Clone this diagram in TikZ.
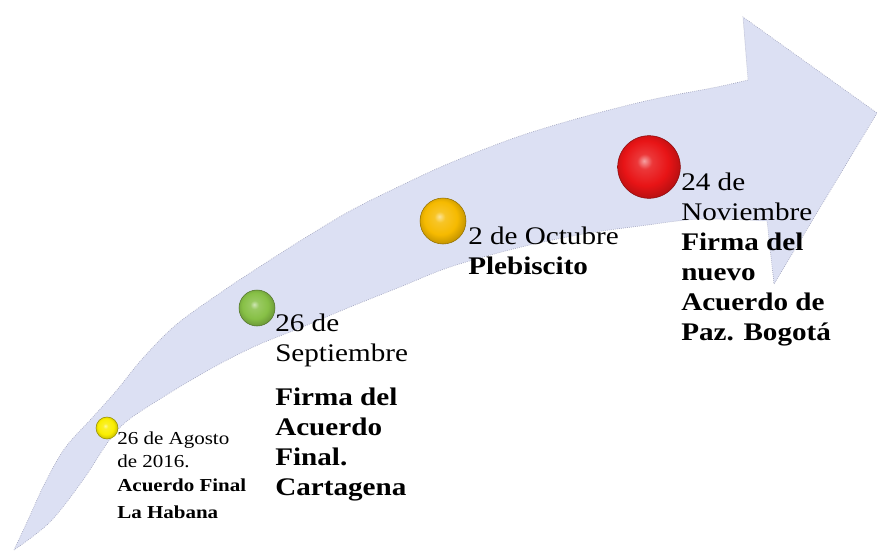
\documentclass[tikz,border=0pt]{standalone}
\usepackage{fontspec}
\setmainfont{Liberation Serif}[FakeStretch=1.15]
\definecolor{arrowfill}{RGB}{220,224,243}
\definecolor{arrowedge}{RGB}{160,163,188}
\definecolor{cyel}{RGB}{250,238,0}
\definecolor{cgrn}{RGB}{135,192,70}
\definecolor{corg}{RGB}{246,186,0}
\definecolor{cred}{RGB}{232,20,22}
\colorlet{ballc}{red}
\pgfdeclareradialshading[ballc]{glossy}{\pgfqpoint{-4bp}{5bp}}{%
  color(0bp)=(ballc!40!white); color(6bp)=(ballc!85!white);
  color(18bp)=(ballc); color(27bp)=(ballc!80!black);
  color(31bp)=(ballc!60!black); color(50bp)=(ballc!60!black)}
\tikzset{
  glosscol/.code={\colorlet{ballc}{#1}},
  gloss/.style={circle, inner sep=0pt, minimum size=#1, shading=glossy,
    draw=ballc!60!black, line width=0.4pt},
  lbl/.style={anchor=base west, inner sep=0pt, align=left, text=black},
  small/.style={font=\fontsize{13.7}{17.6}\selectfont},
  big/.style={font=\fontsize{19}{22.5}\selectfont},
  arrowbody/.style={fill=arrowfill, draw=arrowedge, densely dotted, line width=0.5pt}
}
\begin{document}
\begin{tikzpicture}[x=0.75pt, y=-0.75pt]
\fill[white] (0,0) rectangle (877,551);
\useasboundingbox (0,0) rectangle (877,551);
% curved arrow
\path[arrowbody]
  plot[smooth, tension=0.55] coordinates {(14,550) (28,520) (45,483) (65,448) (92,418)
     (117,390) (143,358) (177,324) (223,291) (250,273) (300,241) (350,211) (400,186)
     (450,163) (517,137) (583,117) (650,100) (717,87) (748,80)}
  -- (743,17) -- (877,113) -- (774,284)
  -- plot[smooth, tension=0.55] coordinates {(767,221) (700,219) (640,226) (583,234)
     (517,248) (450,267) (400,287) (350,307) (300,328) (260,344) (227,360) (193,379)
     (160,399) (127,421) (108,442) (83,480) (50,522) (14,550)}
  -- cycle;
% balls
\node[glosscol=cyel, gloss=16.5pt] (b1) at (107,428) {};
\node[glosscol=cgrn, gloss=27pt] (b2) at (257,308) {};
\node[glosscol=corg, gloss=34.5pt] (b3) at (443,221) {};
\node[glosscol=cred, gloss=47pt] (b4) at (649,167) {};
% labels (anchored at the baseline of the last line)
\node[lbl, small] (t1) at (117,518) {26 de Agosto\\de 2016.\\\textbf{Acuerdo Final}\\[2.6pt]\textbf{La Habana}};
\node[lbl, big] (t2) at (275,495) {26 de\\Septiembre\\[9.8pt]\textbf{Firma del}\\\textbf{Acuerdo}\\\textbf{Final.}\\\textbf{Cartagena}};
\node[lbl, big] (t3) at (468,274) {2 de Octubre\\\textbf{Plebiscito}};
\node[lbl, big] (t4) at (681,340) {24 de\\Noviembre\\\textbf{Firma del}\\\textbf{nuevo}\\\textbf{Acuerdo de}\\\textbf{Paz. Bogotá}};
\end{tikzpicture}
\end{document}
